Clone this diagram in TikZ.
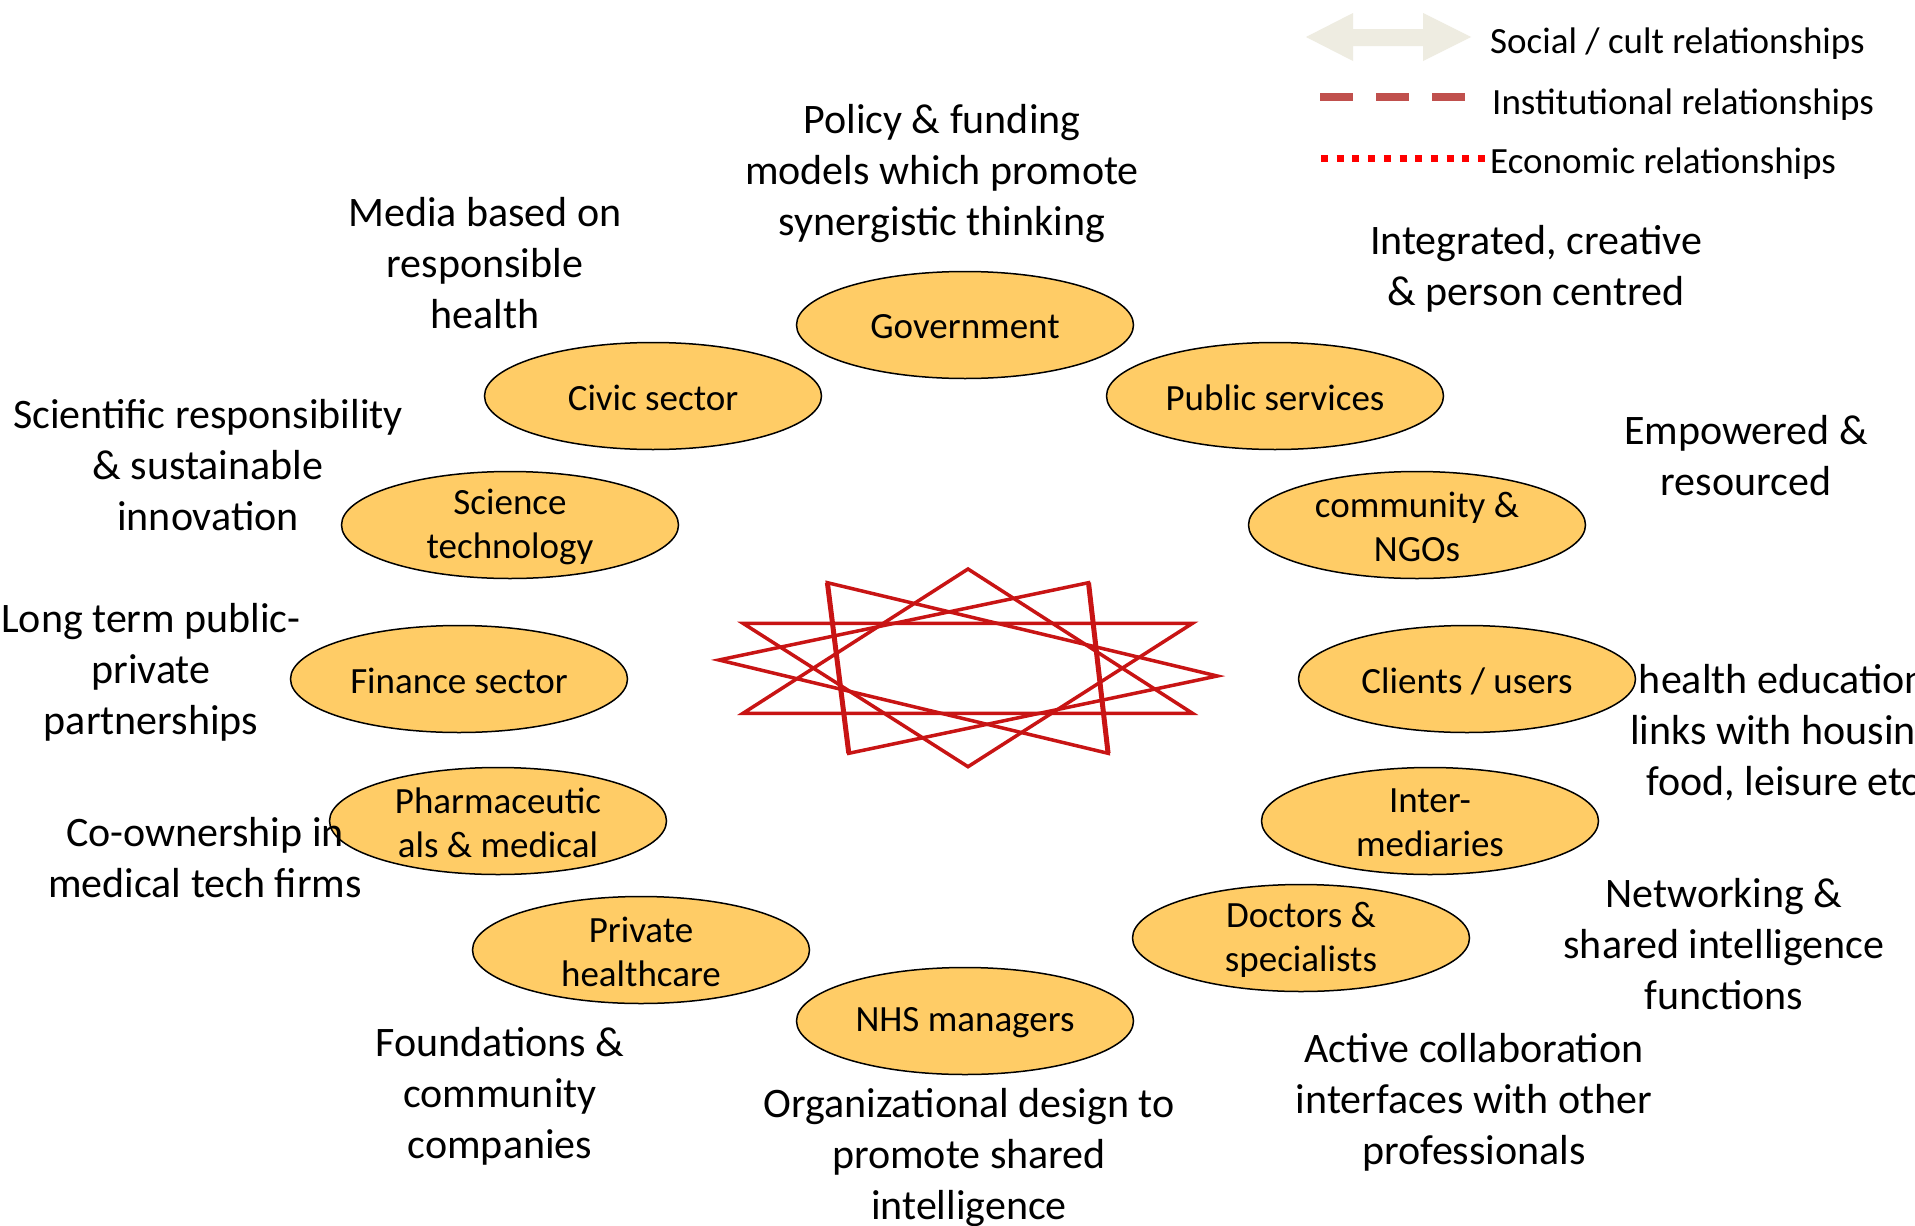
\documentclass[tikz,border=0pt]{standalone}
\usepackage{fontspec}
\setmainfont{Carlito}
\usetikzlibrary{shapes.geometric}
\definecolor{ellfill}{RGB}{255,204,102}
\definecolor{starred}{RGB}{200,20,20}
\definecolor{legbeige}{RGB}{238,236,225}
\definecolor{instred}{RGB}{192,80,77}
\definecolor{ecored}{RGB}{255,0,0}
\tikzset{
  actor/.style={ellipse, draw=black, line width=1.5pt, fill=ellfill,
    minimum width=337pt, minimum height=107pt, inner sep=0pt},
  lbl/.style={align=center, inner sep=0pt, font=\fontsize{37}{44}\selectfont},
  note/.style={align=center, inner sep=0pt, font=\fontsize{42}{51}\selectfont},
  legtext/.style={anchor=west, inner sep=0pt, font=\fontsize{37}{45}\selectfont},
  starline/.style={draw=starred, line width=3.5pt, line join=miter}
}
\begin{document}
\begin{tikzpicture}[x=1pt,y=-1pt]
\clip (0,0) rectangle (1915,1226);
\fill[white] (0,0) rectangle (1915,1226);

% legend
\coordinate (arrL) at (1306,37);
\coordinate (arrR) at (1471,37);
\fill[legbeige] (arrL) -- (1353,13) -- (1353,29) -- (1423,29) -- (1423,13) -- (arrR)
  -- (1423,61) -- (1423,46) -- (1353,46) -- (1353,61) -- cycle;
\coordinate (dashA) at (1320,97);
\coordinate (dashB) at (1465,97);
\draw[instred, line width=8.5pt, dash pattern=on 33pt off 23pt] (dashA) -- (dashB);
\coordinate (dotA) at (1321,158);
\coordinate (dotB) at (1485,158);
\draw[ecored, line width=7pt, dash pattern=on 7pt off 8.7pt] (dotA) -- (dotB);
\node[legtext] (lsoc) at (1490,44) {Social / cult relationships};
\node[legtext] (linst) at (1492,105) {Institutional relationships};
\node[legtext] (leco) at (1490,164) {Economic relationships};

% star
\coordinate (s1) at (968,569);   \coordinate (s2) at (743,713.3);  \coordinate (s3) at (1192.5,713.3);
\coordinate (s4) at (968,766.7); \coordinate (s5) at (743,623.3);  \coordinate (s6) at (1192.5,623.3);
\coordinate (s7) at (827.4,582.7); \coordinate (s8) at (1217.3,676); \coordinate (s9) at (848.8,753.3);
\coordinate (s10) at (1088.5,582.7); \coordinate (s11) at (718.9,660); \coordinate (s12) at (1108.1,753.3);
\draw[starline] (s1) -- (s2) -- (s3) -- cycle;
\draw[starline] (s4) -- (s5) -- (s6) -- cycle;
\draw[starline] (s7) -- (s8) -- (s9) -- cycle;
\draw[starline] (s10) -- (s11) -- (s12) -- cycle;
\draw[starline, line width=5pt] (s7) -- (s9);
\draw[starline, line width=5pt] (s10) -- (s12);

% actors
\node[actor] (gov) at (965,325) {};
\node[actor] (civic) at (653,396) {};
\node[actor] (pub) at (1275,396) {};
\node[actor] (sci) at (510,525) {};
\node[actor] (comm) at (1417,525) {};
\node[actor] (fin) at (459,679) {};
\node[actor] (cli) at (1467,679) {};
\node[actor] (pharma) at (498,821) {};
\node[actor] (inter) at (1430,821) {};
\node[actor] (priv) at (641,950) {};
\node[actor] (doc) at (1301,938) {};
\node[actor] (nhs) at (965,1021) {};

\node[lbl] (govt) at ([yshift=-2pt]gov.center) {Government};
\node[lbl] (civict) at ([yshift=-2pt]civic.center) {Civic sector};
\node[lbl] (pubt) at ([yshift=-2pt]pub.center) {Public services};
\node[lbl] (scit) at ([yshift=-2pt]sci.center) {Science\\technology};
\node[lbl] (commt) at ([yshift=-2pt]comm.center) {community \&\\NGOs};
\node[lbl] (fint) at ([yshift=-2pt]fin.center) {Finance sector};
\node[lbl] (clit) at ([yshift=-2pt]cli.center) {Clients / users};
\node[lbl] (pharmat) at ([yshift=-2pt]pharma.center) {Pharmaceutic\\als \& medical};
\node[lbl] (intert) at ([yshift=-2pt]inter.center) {Inter-\\mediaries};
\node[lbl] (privt) at ([yshift=-2pt]priv.center) {Private\\healthcare};
\node[lbl] (doct) at ([yshift=-2pt]doc.center) {Doctors \&\\specialists};
\node[lbl] (nhst) at ([yshift=-2pt]nhs.center) {NHS managers};

% annotations
\node[note] (npolicy) at (942,174) {Policy \& funding\\models which promote\\synergistic thinking};
\node[note] (nmedia) at (485,263) {Media based on\\responsible\\health};
\node[note] (ninteg) at (1536,269) {Integrated, creative\\\& person centred};
\node[note] (nsci) at (208,465) {Scientific responsibility\\\& sustainable\\innovation};
\node[note] (nemp) at (1746,456) {Empowered \&\\resourced};
\node[note] (nlong) at (151,672) {Long term public-\\private\\partnerships};
\node[note] (nhealth) at (1783,733) {health education\\links with housing\\food, leisure etc};
\node[note] (ncoown) at (205,858) {Co-ownership in\\medical tech firms};
\node[note] (nnet) at (1724,944) {Networking \&\\shared intelligence\\functions};
\node[note] (nfound) at (500,1096) {Foundations \&\\community\\companies};
\node[note] (nactive) at (1474,1102) {Active collaboration\\interfaces with other\\professionals};
\node[note] (norg) at (969,1158) {Organizational design to\\promote shared\\intelligence};
\end{tikzpicture}
\end{document}
